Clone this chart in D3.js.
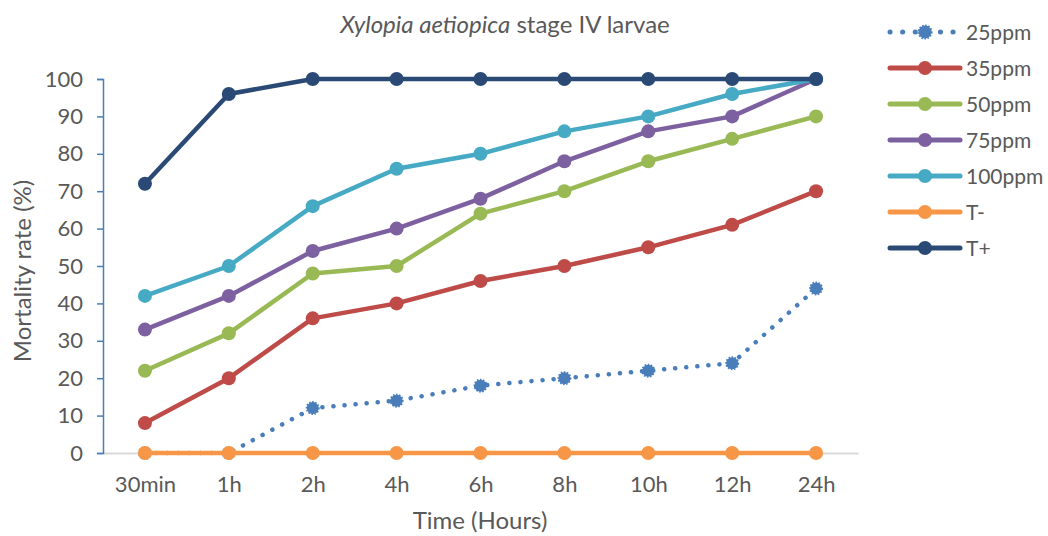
<!DOCTYPE html>
<html>
<head>
<meta charset="utf-8">
<script src="https://cdn.jsdelivr.net/npm/d3@7"></script>
<style>
  body { margin: 0; background: #fff; }
  text { font-family: Lato, "Open Sans", sans-serif; fill: #595959; }
</style>
</head>
<body>
<div class="chart"></div>
<script>
// Chart data
var times = ["30min", "1h", "2h", "4h", "6h", "8h", "10h", "12h", "24h"];
var yTicks = [0, 10, 20, 30, 40, 50, 60, 70, 80, 90, 100];
var seriesNames = ["25ppm", "35ppm", "50ppm", "75ppm", "100ppm", "T-", "T+"];
var seriesColors = ["#4A7EBB", "#BE4B48", "#98B954", "#7D60A0", "#46AAC5", "#F79646", "#2A4A75"];
var ppm25 = [0, 0, 12, 14, 18, 20, 22, 24, 44];
var ppm35 = [8, 20, 36, 40, 46, 50, 55, 61, 70];
var ppm50 = [22, 32, 48, 50, 64, 70, 78, 84, 90];
var ppm75 = [33, 42, 54, 60, 68, 78, 86, 90, 100];
var ppm100 = [42, 50, 66, 76, 80, 86, 90, 96, 100];
var tMinus = [0, 0, 0, 0, 0, 0, 0, 0, 0];
var tPlus = [72, 96, 100, 100, 100, 100, 100, 100, 100];
var seriesValues = [ppm25, ppm35, ppm50, ppm75, ppm100, tMinus, tPlus];

var svgWidth = 1048;
var svgHeight = 536;
var margin = { top: 79, right: 190, bottom: 83, left: 103 };
var width = svgWidth - margin.left - margin.right;
var height = svgHeight - margin.top - margin.bottom;

var svg = d3.select(".chart")
  .append("svg")
  .attr("width", svgWidth)
  .attr("height", svgHeight);

var chartGroup = svg.append("g")
  .attr("transform", `translate(${margin.left}, ${margin.top})`);

// Scales
var xScale = d3.scalePoint()
  .domain(times)
  .range([0, width])
  .padding(0.5);

var yScale = d3.scaleLinear()
  .domain([0, 100])
  .range([height, 0]);

// Axes
var xAxisG = chartGroup.append("g")
  .attr("transform", `translate(0, ${height})`)
  .call(d3.axisBottom(xScale).tickSize(0).tickPadding(23));
xAxisG.select(".domain").attr("stroke", "#d9d9d9").attr("stroke-width", 2);
xAxisG.selectAll("text").style("font-size", "22px").attr("fill", "#595959");

var yAxisG = chartGroup.append("g")
  .call(d3.axisLeft(yScale).tickValues(yTicks).tickSize(6).tickSizeOuter(6).tickPadding(14));
yAxisG.select(".domain").attr("stroke", "#4A7EBB").attr("stroke-width", 1.5);
yAxisG.selectAll(".tick line").attr("stroke", "#4A7EBB").attr("stroke-width", 1.5);
yAxisG.selectAll("text").style("font-size", "22px").attr("fill", "#595959");

// Lines
var line = d3.line()
  .x((d, i) => xScale(times[i]))
  .y(d => yScale(d));

seriesValues.forEach(function (vals, s) {
  var dotted = s === 0;
  var g = chartGroup.append("g");
  g.append("path")
    .datum(vals)
    .attr("d", line)
    .attr("fill", "none")
    .attr("stroke", seriesColors[s])
    .attr("stroke-width", 4.5)
    .attr("stroke-linecap", "round")
    .attr("stroke-linejoin", "round")
    .attr("stroke-dasharray", dotted ? "0.1 11" : null);

  g.selectAll("circle")
    .data(vals)
    .enter()
    .append("circle")
    .attr("cx", (d, i) => xScale(times[i]))
    .attr("cy", d => yScale(d))
    .attr("r", dotted ? 6 : 7)
    .attr("fill", seriesColors[s])
    .attr("stroke", dotted ? seriesColors[s] : "none")
    .attr("stroke-width", dotted ? 2 : 0)
    .attr("stroke-dasharray", dotted ? "1.5 1.5" : null);
});

// Legend
var legend = svg.append("g")
  .attr("transform", "translate(890, 32)");

seriesNames.forEach(function (name, s) {
  var dotted = s === 0;
  var row = legend.append("g").attr("transform", `translate(0, ${s * 36})`);
  row.append("line")
    .attr("x1", 0).attr("x2", 70)
    .attr("stroke", seriesColors[s])
    .attr("stroke-width", 5)
    .attr("stroke-linecap", "round")
    .attr("stroke-dasharray", dotted ? "0.1 12.5" : null);
  row.append("circle")
    .attr("cx", 35)
    .attr("r", dotted ? 6.5 : 7)
    .attr("fill", seriesColors[s])
    .attr("stroke", dotted ? seriesColors[s] : "none")
    .attr("stroke-width", dotted ? 2 : 0)
    .attr("stroke-dasharray", dotted ? "1.5 1.5" : null);
  row.append("text")
    .attr("x", 76)
    .attr("y", 0)
    .attr("dy", "0.36em")
    .style("font-size", "21px")
    .text(name);
});

// Title
var title = svg.append("text")
  .attr("x", 505)
  .attr("y", 33)
  .attr("text-anchor", "middle")
  .style("font-size", "24px");
title.append("tspan").style("font-style", "italic").text("Xylopia aetiopica");
title.append("tspan").text(" stage IV larvae");

// Axis titles
svg.append("text")
  .attr("transform", "rotate(-90)")
  .attr("x", -271)
  .attr("y", 31)
  .attr("text-anchor", "middle")
  .style("font-size", "24px")
  .text("Mortality rate (%)");

svg.append("text")
  .attr("x", 480)
  .attr("y", 529)
  .attr("text-anchor", "middle")
  .style("font-size", "24px")
  .text("Time (Hours)");
</script>
</body>
</html>
